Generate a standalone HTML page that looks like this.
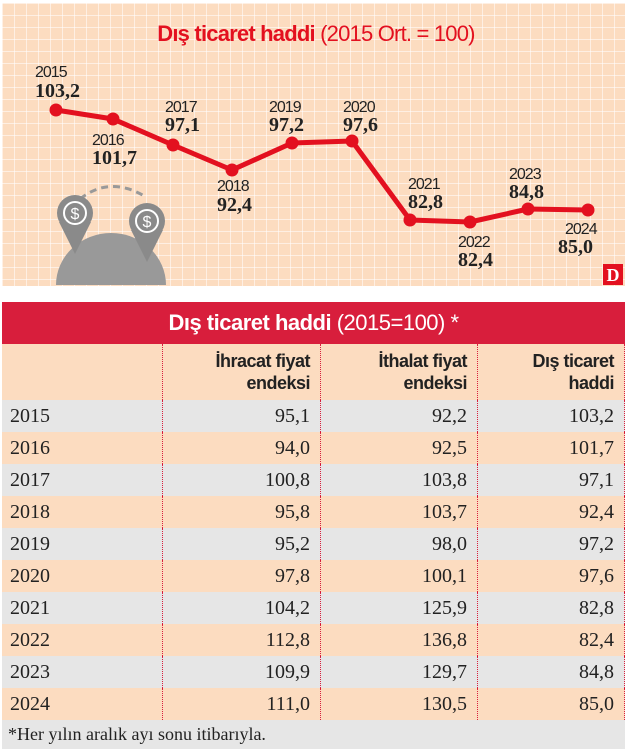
<!DOCTYPE html>
<html><head><meta charset="utf-8"><style>
body{margin:0;width:627px;height:749px;background:#fff;overflow:hidden;position:relative;font-family:"Liberation Sans",sans-serif}
.chart{position:absolute;left:2px;top:3px;width:623px;height:283px;background-color:#fcdcc0;
background-image:linear-gradient(to right,rgba(255,255,255,.55) 1px,transparent 1px),linear-gradient(to bottom,rgba(255,255,255,.55) 1px,transparent 1px);background-size:12px 12px}
.tbl{position:absolute;left:2px;top:302px;width:623px}
.hd{height:42px;background:#d81e3c;color:#fff;text-align:center;font-size:22px;line-height:42px;letter-spacing:-0.5px}
.row{height:32px;position:relative;font-family:"Liberation Serif",serif;font-size:20px;color:#222;line-height:32px}
.c{position:absolute;top:0;height:100%;box-sizing:border-box}
.c0{left:0;width:160px;padding-left:8px}
.c1{left:160px;width:158px;text-align:right;padding-right:10px;border-left:1px dotted #d81e3c}
.c2{left:318px;width:157px;text-align:right;padding-right:10px;border-left:1px dotted #d81e3c}
.c3{left:475px;width:148px;text-align:right;padding-right:10px;border-left:1px dotted #d81e3c;border-right:1px dotted #d81e3c}
.g{background:#e6e6e6}.p{background:#fcdcc0}
.colh{height:56px;position:relative;font-weight:bold;font-size:18px;line-height:22px;color:#222;letter-spacing:-0.5px}
.colh .c{padding-top:6px}
.foot{height:29px;background:#e6e6e6;font-family:"Liberation Serif",serif;font-size:18px;line-height:29px;padding-left:6px;color:#222}
</style></head><body>
<div class="chart"></div>
<svg width="627" height="290" style="position:absolute;left:0;top:0" font-family="Liberation Serif,serif">
<text x="316" y="41" text-anchor="middle" font-family="Liberation Sans,sans-serif" font-size="22" fill="#e3101f" letter-spacing="-0.8"><tspan font-weight="bold">Dış ticaret haddi</tspan> (2015 Ort. = 100)</text>
<g fill="#8a8a8a">
<path d="M80 199 q30-24 66 -2" stroke="#999" stroke-width="3" fill="none" stroke-dasharray="7 5"/>
<path d="M56 285 a55 52 0 0 1 110 0z" fill="#999"/>
<circle cx="75" cy="213" r="18"/><path d="M59 222 L75 254 L91 222z"/>
<circle cx="147" cy="221" r="18"/><path d="M131 230 L147 262 L163 230z"/>
<circle cx="75" cy="213" r="11" fill="none" stroke="#fff" stroke-width="2"/>
<circle cx="147" cy="221" r="11" fill="none" stroke="#fff" stroke-width="2"/>
<text x="75" y="219" font-size="16" fill="#fff" text-anchor="middle" font-family="Liberation Sans">$</text>
<text x="147" y="227" font-size="16" fill="#fff" text-anchor="middle" font-family="Liberation Sans">$</text>
</g>
<polyline points="56,110 113,119 173,145 232,170 292,143 352,141 410,220 470,222 528,209 588,210" fill="none" stroke="#e3101f" stroke-width="5" stroke-linejoin="round"/>
<g fill="#e3101f"><circle cx="56" cy="110" r="6.5"/><circle cx="113" cy="119" r="6.5"/><circle cx="173" cy="145" r="6.5"/><circle cx="232" cy="170" r="6.5"/><circle cx="292" cy="143" r="6.5"/><circle cx="352" cy="141" r="6.5"/><circle cx="410" cy="220" r="6.5"/><circle cx="470" cy="222" r="6.5"/><circle cx="528" cy="209" r="6.5"/><circle cx="588" cy="210" r="6.5"/></g>
<g fill="#222" font-size="16" font-family="Liberation Sans,sans-serif" letter-spacing="-1">
<text x="35" y="77">2015</text><text x="92" y="145">2016</text><text x="165" y="112">2017</text><text x="217" y="191">2018</text><text x="269" y="112">2019</text><text x="343" y="112">2020</text><text x="408" y="189">2021</text><text x="458" y="247">2022</text><text x="509" y="179">2023</text><text x="565" y="234">2024</text></g>
<g fill="#222" font-size="20" font-weight="bold">
<text x="35" y="97">103,2</text><text x="92" y="164">101,7</text><text x="165" y="131">97,1</text><text x="217" y="211">92,4</text><text x="269" y="131">97,2</text><text x="343" y="131">97,6</text><text x="408" y="208">82,8</text><text x="458" y="266">82,4</text><text x="509" y="198">84,8</text><text x="558" y="253">85,0</text></g>
<rect x="603" y="264" width="20" height="21" fill="#e3101f"/><text x="613" y="281" text-anchor="middle" fill="#fff" font-weight="bold" font-size="18">D</text>
</svg>
<div class="tbl">
<div class="hd"><b>Dış ticaret haddi</b> (2015=100) *</div>
<div class="colh p"><div class="c c0"></div><div class="c c1">İhracat fiyat<br>endeksi</div><div class="c c2">İthalat fiyat<br>endeksi</div><div class="c c3">Dış ticaret<br>haddi</div></div>
<div class="row g"><div class="c c0">2015</div><div class="c c1">95,1</div><div class="c c2">92,2</div><div class="c c3">103,2</div></div>
<div class="row p"><div class="c c0">2016</div><div class="c c1">94,0</div><div class="c c2">92,5</div><div class="c c3">101,7</div></div>
<div class="row g"><div class="c c0">2017</div><div class="c c1">100,8</div><div class="c c2">103,8</div><div class="c c3">97,1</div></div>
<div class="row p"><div class="c c0">2018</div><div class="c c1">95,8</div><div class="c c2">103,7</div><div class="c c3">92,4</div></div>
<div class="row g"><div class="c c0">2019</div><div class="c c1">95,2</div><div class="c c2">98,0</div><div class="c c3">97,2</div></div>
<div class="row p"><div class="c c0">2020</div><div class="c c1">97,8</div><div class="c c2">100,1</div><div class="c c3">97,6</div></div>
<div class="row g"><div class="c c0">2021</div><div class="c c1">104,2</div><div class="c c2">125,9</div><div class="c c3">82,8</div></div>
<div class="row p"><div class="c c0">2022</div><div class="c c1">112,8</div><div class="c c2">136,8</div><div class="c c3">82,4</div></div>
<div class="row g"><div class="c c0">2023</div><div class="c c1">109,9</div><div class="c c2">129,7</div><div class="c c3">84,8</div></div>
<div class="row p"><div class="c c0">2024</div><div class="c c1">111,0</div><div class="c c2">130,5</div><div class="c c3">85,0</div></div>
<div class="foot">*Her yılın aralık ayı sonu itibarıyla.</div>
</div>
</body></html>
